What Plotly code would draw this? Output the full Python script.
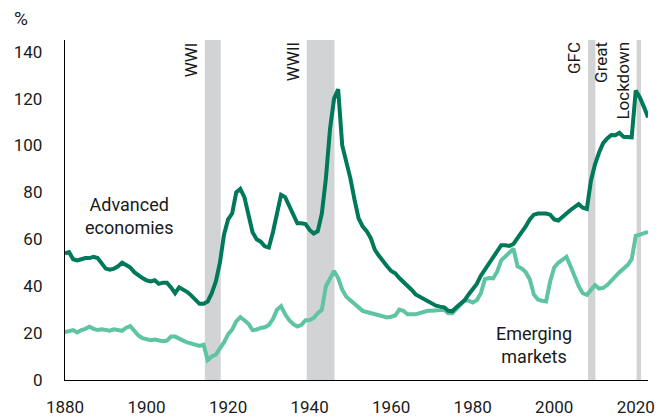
import plotly.graph_objects as go

# General government debt, % of GDP
years = list(range(1880, 2024))

advanced = [
    54, 54.5, 51.5, 51, 51.5, 52, 52, 52.5, 52, 50,            # 1880-1889
    47.5, 47, 47.5, 48.5, 50, 49, 48, 46, 44.5, 43.5,          # 1890-1899
    42.5, 42, 42.5, 41, 41.5, 41.5, 39.5, 37, 39.5, 38.5,      # 1900-1909
    37.5, 36, 34, 32.5, 32.5, 33.5, 37, 42, 50, 62,            # 1910-1919
    68.5, 71, 80, 81.5, 78, 71, 63, 60, 59, 57,                # 1920-1929
    56.5, 63, 72, 79, 78, 74, 70, 66.8, 66.8, 66.5,            # 1930-1939
    64, 62.5, 63.5, 71, 86, 107, 120, 124, 100, 93.5,          # 1940-1949
    86, 77, 69, 65.5, 63.5, 60.5, 55.5, 53, 50.5, 48.5,        # 1950-1959
    46.5, 45.5, 43.5, 42, 40.5, 38.5, 36.5, 35.5, 34.5, 33.5,  # 1960-1969
    32.5, 31.7, 31.3, 31, 29.5, 29.3, 31, 32.5, 34, 36.5,      # 1970-1979
    38.5, 41, 44.5, 47, 49.5, 52.5, 55, 57.5, 57.5, 57.2,      # 1980-1989
    58, 60.5, 62.5, 65.5, 68.5, 70.5, 71, 71, 71, 70.5,        # 1990-1999
    68.5, 68, 69.3, 71, 72.5, 74, 75, 73.5, 73, 85,            # 2000-2009
    92, 97, 101, 103, 104.5, 104.4, 105.4, 103.7, 103.5, 103.5,  # 2010-2019
    123.5, 120.5, 116.5, 112,                                  # 2020-2023
]

emerging = [
    20.5, 21, 21.3, 20.3, 21.3, 21.8, 22.7, 21.8, 21.3, 21.6,  # 1880-1889
    21.3, 21, 21.6, 21.3, 21, 22.3, 23, 21, 19, 17.8,          # 1890-1899
    17.3, 17, 17.3, 16.8, 16.5, 16.8, 18.5, 18.5, 17.5, 16.8,  # 1900-1909
    16, 15.5, 14.8, 14.5, 15, 8.5, 10, 10.8, 13.5, 16,         # 1910-1919
    19.5, 21.5, 25, 26.8, 25.5, 24, 21.3, 21.5, 22.2, 22.5,    # 1920-1929
    23.5, 26, 30, 31.5, 28, 25.5, 23.8, 22.8, 23.5, 25.5,      # 1930-1939
    25.5, 26.5, 28.5, 30, 40, 43, 46.5, 43.5, 38.5, 35.5,      # 1940-1949
    34, 32, 30.5, 29.5, 29, 28.5, 28, 27.3, 27, 26.7,          # 1950-1959
    27, 27.5, 30, 29.5, 28, 27.8, 28, 28.5, 29, 29.5,          # 1960-1969
    29.5, 29.5, 29.8, 30, 28.5, 28.5, 30.5, 32.5, 34, 33.8,    # 1970-1979
    33, 34, 37, 43, 43.5, 43.3, 46.2, 51, 52.5, 54,            # 1980-1989
    56, 48.5, 47.6, 46, 43, 36.5, 34.3, 33.8, 33.5, 42,        # 1990-1999
    48, 50, 51, 52.5, 48.5, 44, 40, 37, 36.3, 38.4,            # 2000-2009
    40.5, 39, 39.3, 40.5, 42.5, 44.5, 46, 47.5, 49, 51.5,      # 2010-2019
    61.5, 62, 62.5, 63.2,                                      # 2020-2023
]

# shaded episodes (start, end, label)
episodes = [
    (1914.3, 1918.2, "WWI"),
    (1939.3, 1946.1, "WWII"),
    (2008.3, 2010.1, "GFC"),
    (2020.2, 2021.3, "Great<br>Lockdown"),
]

xticks = [1880, 1900, 1920, 1940, 1960, 1980, 2000, 2020]
yticks = [0, 20, 40, 60, 80, 100, 120, 140]

dark = "#00785a"
light = "#5fc4a2"
band = "#d2d3d5"
ink = "#1a1a1a"
font = "Roboto"

fig = go.Figure()

for x0, x1, _ in episodes:
    fig.add_shape(type="rect", xref="x", yref="paper", x0=x0, x1=x1, y0=0, y1=1,
                  fillcolor=band, line_width=0, layer="below")

fig.add_trace(go.Scatter(x=years, y=emerging, mode="lines",
                         line=dict(color=light, width=4), hoverinfo="skip"))
fig.add_trace(go.Scatter(x=years, y=advanced, mode="lines",
                         line=dict(color=dark, width=4), hoverinfo="skip"))

# rotated episode labels, hugging the left edge of each band
for x0, x1, txt in episodes:
    fig.add_annotation(x=x0, xref="x", y=1, yref="paper", text=txt,
                       textangle=-90, showarrow=False, align="right",
                       xanchor="right", yanchor="top", xshift=-2,
                       font=dict(family=font, size=17, color=ink))

# series labels
fig.add_annotation(x=1895.8, y=70, text="Advanced<br>economies", showarrow=False,
                   xanchor="center", yanchor="middle",
                   font=dict(family=font, size=18, color=ink))
fig.add_annotation(x=1995.1, y=15, text="Emerging<br>markets", showarrow=False,
                   xanchor="center", yanchor="middle",
                   font=dict(family=font, size=18, color=ink))

fig.add_annotation(x=0, xref="paper", y=1, yref="paper", text="%",
                   showarrow=False, xanchor="left", yanchor="middle",
                   xshift=-53, yshift=22,
                   font=dict(family=font, size=19, color=ink))

fig.update_xaxes(range=[1880, 2023], tickvals=xticks, showgrid=False,
                 zeroline=False, showline=True, linecolor="black", linewidth=1,
                 ticks="", ticklabelstandoff=12, automargin=False,
                 tickfont=dict(family=font, size=17, color=ink))
fig.update_yaxes(range=[0, 145], tickvals=yticks, showgrid=False,
                 zeroline=False, showline=True, linecolor="black", linewidth=1.3,
                 ticks="", ticklabelstandoff=18, automargin=False,
                 tickfont=dict(family=font, size=17, color=ink))

# the page body adds an 8px offset, so the figure is sized to fill the rest
fig.update_layout(width=658, height=410, margin=dict(l=57, r=18, t=32, b=38),
                  plot_bgcolor="white", paper_bgcolor="white", showlegend=False)

fig.write_html("out.html")
